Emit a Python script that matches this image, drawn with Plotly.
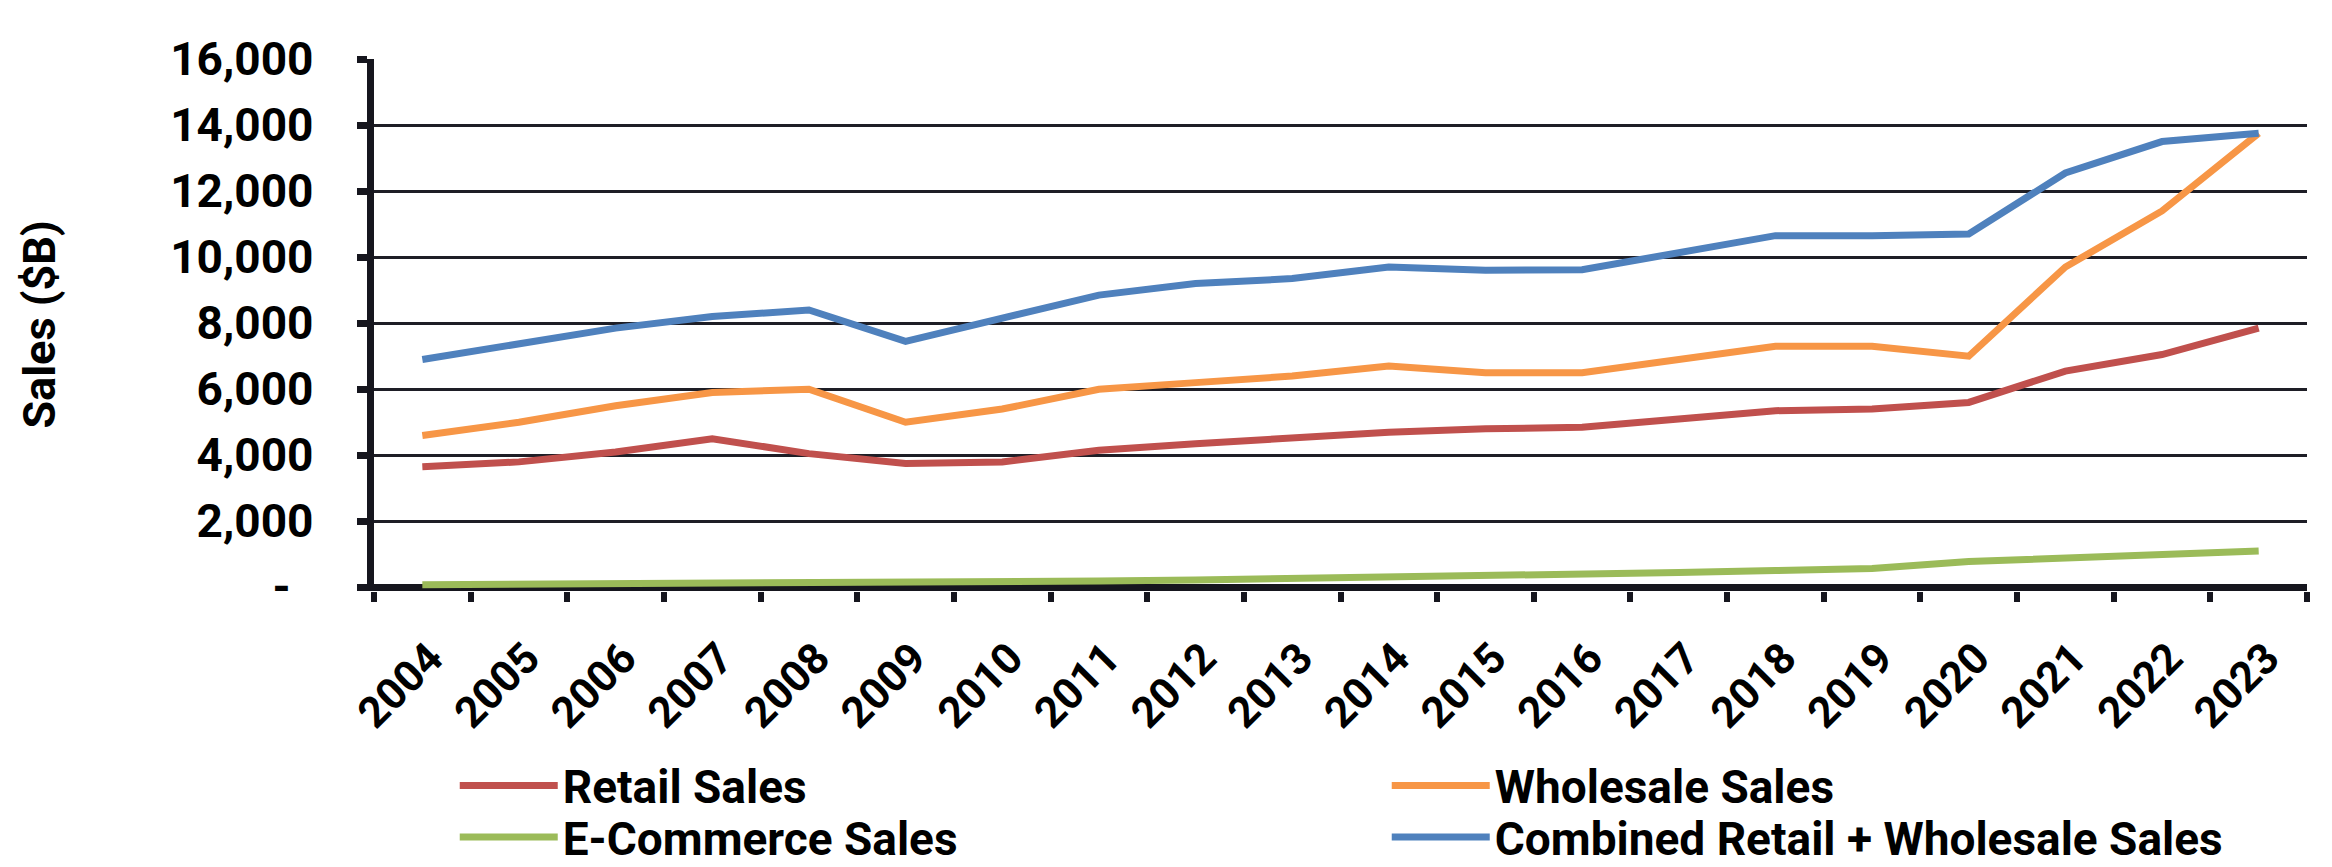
import plotly.graph_objects as go

years = [str(y) for y in range(2004, 2024)]

retail_sales = [3650, 3800, 4100, 4500, 4050, 3750, 3800, 4150, 4350, 4550,
                4700, 4800, 4850, 5100, 5350, 5400, 5600, 6550, 7050, 7850]
wholesale_sales = [4600, 5000, 5500, 5900, 6000, 5000, 5400, 6000, 6200, 6400,
                   6700, 6500, 6500, 6900, 7300, 7300, 7000, 9700, 11400, 13750]
ecommerce_sales = [80, 90, 105, 125, 135, 140, 165, 195, 225, 260,
                   300, 345, 395, 450, 510, 570, 780, 900, 1030, 1100]
combined_sales = [6900, 7350, 7850, 8200, 8400, 7450, 8150, 8850, 9200, 9350,
                  9700, 9600, 9620, 10150, 10650, 10650, 10700, 12550, 13500, 13750]

y_ticks = [0, 2000, 4000, 6000, 8000, 10000, 12000, 14000, 16000]
# accounting style labels: dash for zero, trailing padding keeps them off the axis
pad = "\u00a0" * 3
y_tick_text = ["-" + "\u00a0" * 2 + pad] + [f"{v:,}{pad}" for v in y_ticks[1:]]

# name, values, colour, legend row
series = [
    ("Retail Sales", retail_sales, "#C0504D", "legend"),
    ("Wholesale Sales", wholesale_sales, "#F79646", "legend"),
    ("E-Commerce Sales", ecommerce_sales, "#9BBB59", "legend2"),
    ("Combined Retail + Wholesale Sales", combined_sales, "#4F81BD", "legend2"),
]

fig = go.Figure()
for name, vals, color, leg in series:
    fig.add_trace(go.Scatter(x=years, y=vals, name=name, mode="lines",
                             legend=leg, line=dict(color=color, width=7)))

font = "Roboto"
dark = "#16161e"
plot_l, plot_w = 373.5, 2332 - 373.5 - 25

legend_style = dict(
    orientation="h", xref="container", yref="container",
    x=0.195, xanchor="left", yanchor="middle",
    entrywidth=819, itemwidth=98,
    font=dict(family=font, size=46, color="black", weight="bold"),
    traceorder="normal", bgcolor="rgba(0,0,0,0)",
)
fig.update_layout(
    width=2332, height=867,
    margin=dict(l=plot_l, r=25, t=59, b=276.4),
    paper_bgcolor="white", plot_bgcolor="white",
    font=dict(family=font, size=44, color="black", weight="bold"),
    showlegend=True,
    legend=dict(legend_style, y=1 - 785.5 / 867),
    legend2=dict(legend_style, y=1 - 837 / 867),
    annotations=[dict(
        text="Sales ($B)", textangle=-90, showarrow=False,
        xref="paper", yref="paper", x=(38 - plot_l) / plot_w, y=0.5,
        xanchor="center", yanchor="middle",
        font=dict(family=font, size=45, color="black", weight="bold"),
    )],
)

fig.update_xaxes(
    type="category", range=[-0.5, len(years) - 0.5],
    tickson="boundaries", ticks="outside", ticklen=10,
    tickwidth=6, tickcolor=dark, showline=False, showgrid=False,
    tickangle=-45, ticklabelstandoff=32, ticklabelshift=8,
    tickfont=dict(family=font, size=43, weight="bold"),
)
fig.update_yaxes(
    range=[-110, 16000], tickvals=y_ticks, ticktext=y_tick_text,
    ticks="outside", ticklen=10, tickwidth=7, tickcolor=dark,
    showline=True, linewidth=7, linecolor=dark,
    showgrid=True, gridcolor="#1e1e26", gridwidth=2.5,
    zeroline=True, zerolinecolor=dark, zerolinewidth=7,
    tickfont=dict(family=font, size=46, weight="bold"),
)

fig.write_html(
    "out.html",
    config={"displayModeBar": False},
    post_script="document.body.style.margin='0';document.body.style.overflow='hidden';",
)
